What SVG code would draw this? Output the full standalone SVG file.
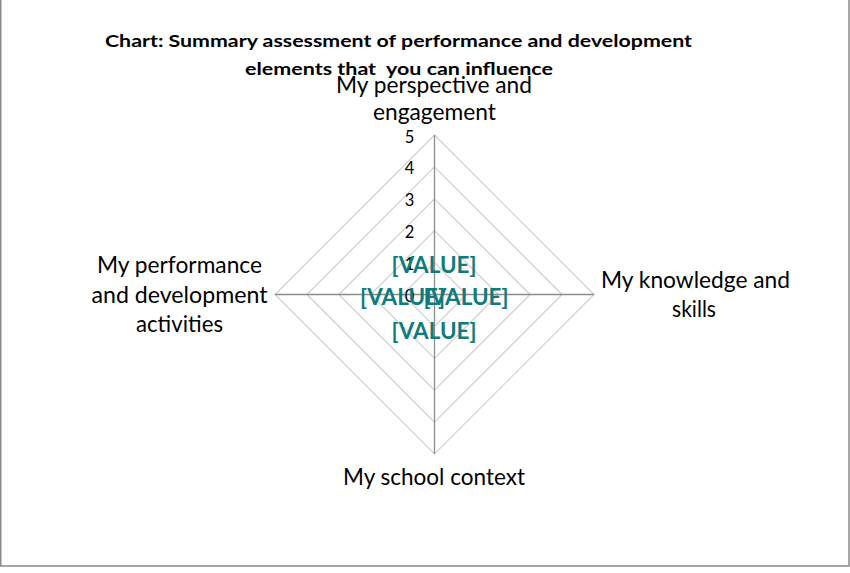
<svg xmlns="http://www.w3.org/2000/svg" width="850" height="573" viewBox="0 0 850 573">
<style>
.title{font-family:Lato,"Liberation Sans",Arial,sans-serif;font-weight:bold;font-size:17.5px;fill:#000;white-space:pre}
.lab{font-family:Lato,"Liberation Sans",Arial,sans-serif;font-size:22.5px;fill:#000;text-anchor:middle}
.tick{font-family:Lato,"Liberation Sans",Arial,sans-serif;font-size:16.5px;fill:#000;text-anchor:middle}
.val{font-family:Lato,"Liberation Sans",Arial,sans-serif;font-weight:bold;font-size:23px;fill:#0f7b7b;text-anchor:middle}
.grid{fill:none;stroke:#d0d0d0;stroke-width:1.2}
.axis{stroke:#8c8c8c;stroke-width:1.3;fill:none}
</style>
<rect x="0" y="0" width="850" height="573" fill="#fff"/>
<path d="M0.75,0 V566 H849 V0" fill="none" stroke="#898989" stroke-width="1.5"/>
<g id="title">
<text class="title" x="105" y="47" textLength="587" lengthAdjust="spacingAndGlyphs">Chart: Summary assessment of performance and development</text>
<text class="title" x="245" y="75" textLength="308" lengthAdjust="spacingAndGlyphs">elements that  you can influence</text>
</g>
<g id="grid">
<polygon class="grid" points="434.5,262.6 466.4,294.5 434.5,326.4 402.6,294.5"/>
<polygon class="grid" points="434.5,230.7 498.3,294.5 434.5,358.3 370.7,294.5"/>
<polygon class="grid" points="434.5,198.8 530.2,294.5 434.5,390.2 338.8,294.5"/>
<polygon class="grid" points="434.5,166.9 562.1,294.5 434.5,422.1 306.9,294.5"/>
<polygon class="grid" points="434.5,135 594,294.5 434.5,454 275,294.5"/>
</g>
<g id="connectors">
<line class="axis" x1="434.5" y1="135" x2="434.5" y2="454"/>
<line class="axis" x1="275" y1="294.5" x2="594" y2="294.5"/>
</g>
<g id="ticks">
<text class="tick" x="409.5" y="142.5">5</text>
<text class="tick" x="409.5" y="174">4</text>
<text class="tick" x="409.5" y="206">3</text>
<text class="tick" x="409.5" y="238">2</text>
<text class="tick" x="409.5" y="270">1</text>
<text class="tick" x="409.5" y="301.5">0</text>
</g>
<g id="node-perspective">
<text class="lab" x="434" y="93" textLength="196" lengthAdjust="spacingAndGlyphs">My perspective and</text>
<text class="lab" x="434.5" y="120" textLength="123" lengthAdjust="spacingAndGlyphs">engagement</text>
</g>
<g id="node-knowledge">
<text class="lab" x="695.5" y="287.5" textLength="189" lengthAdjust="spacingAndGlyphs">My knowledge and</text>
<text class="lab" x="694" y="316.5" textLength="44" lengthAdjust="spacingAndGlyphs">skills</text>
</g>
<g id="node-school">
<text class="lab" x="434" y="485" textLength="182" lengthAdjust="spacingAndGlyphs">My school context</text>
</g>
<g id="node-performance">
<text class="lab" x="179.5" y="272.5" textLength="165" lengthAdjust="spacingAndGlyphs">My performance</text>
<text class="lab" x="179.5" y="302.5" textLength="176" lengthAdjust="spacingAndGlyphs">and development</text>
<text class="lab" x="179.5" y="331.5" textLength="87" lengthAdjust="spacingAndGlyphs">activities</text>
</g>
<g id="values">
<text class="val" x="434" y="273" textLength="85" lengthAdjust="spacingAndGlyphs">[VALUE]</text>
<text class="val" x="402.5" y="305" textLength="85" lengthAdjust="spacingAndGlyphs">[VALUE]</text>
<text class="val" x="466" y="305" textLength="85" lengthAdjust="spacingAndGlyphs">[VALUE]</text>
<text class="val" x="434" y="339" textLength="85" lengthAdjust="spacingAndGlyphs">[VALUE]</text>
</g>
</svg>
